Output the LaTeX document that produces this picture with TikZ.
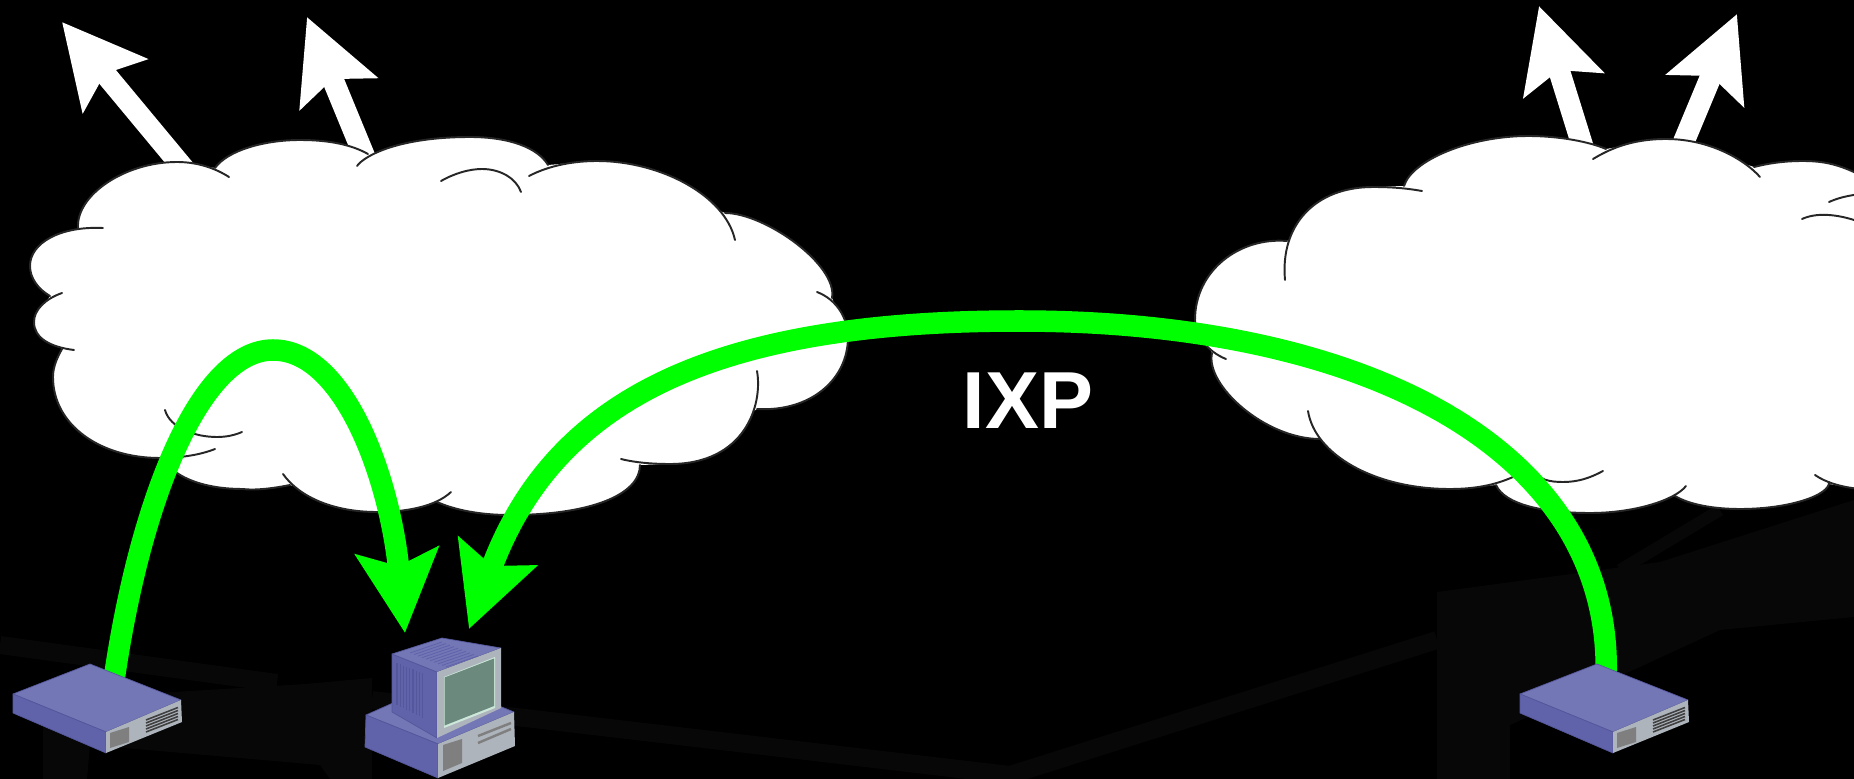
\documentclass[tikz,border=0pt]{standalone}
\usepackage{fontspec}
\setsansfont{Liberation Sans}
\usetikzlibrary{arrows.meta}

\definecolor{devtop}{HTML}{7477B6}
\definecolor{devside}{HTML}{6063A9}
\definecolor{devfront}{HTML}{ADB4BB}
\definecolor{devslot}{HTML}{7F7F7F}
\definecolor{devscreen}{HTML}{6B8A7D}
\definecolor{devglow}{HTML}{CDE8DA}
\definecolor{devvent}{HTML}{54579C}
\definecolor{faint}{HTML}{070707}
\definecolor{linkgreen}{HTML}{00FF00}

\tikzset{
  cloudline/.style={draw=black!85, line width=.55pt, line cap=round},
  uplink/.style={->, white, line width=.215cm},
  peering/.style={->, linkgreen, line width=.215cm},
  faintband/.style={draw=faint, line width=.18cm},
  edgeline/.style={draw=devvent, line width=.2pt, line join=round},
  switchbox/.pic={
    \filldraw[edgeline, fill=devtop] (90,664) -- (181,700) -- (106,732) -- (13,694) -- cycle;
    \filldraw[edgeline, fill=devside] (13,694) -- (106,732) -- (106,753) -- (13,713) -- cycle;
    \fill[devfront] (106,732) -- (181,700) -- (182,722) -- (106,753) -- cycle;
    \fill[devslot] (110,733) -- (129,727) -- (129,742) -- (110,748) -- cycle;
    \foreach \i in {0,1,2,3,4}
      \draw[black!75, line width=.45pt] (146,720+3*\i) -- (178,707.5+3*\i);
  },
  hostbox/.pic={
    % base
    \filldraw[edgeline, fill=devtop] (366,715) -- (438,744) -- (514,712) -- (440,682) -- cycle;
    \filldraw[edgeline, fill=devside] (366,715) -- (438,744) -- (438,778) -- (365,747) -- cycle;
    \fill[devfront] (438,744) -- (514,712) -- (515,746) -- (438,778) -- cycle;
    \fill[devslot] (443,745) -- (462,739) -- (462,763) -- (443,771) -- cycle;
    \draw[devslot, line width=.7pt] (478,736) -- (511,723) (478,743) -- (511,729);
    % monitor
    \filldraw[edgeline, fill=devside] (392,654) -- (437,672) -- (437,738) -- (392,712) -- cycle;
    \filldraw[edgeline, fill=devtop] (392,654) -- (442,638) -- (501,648) -- (437,672) -- cycle;
    \fill[devfront] (437,672) -- (501,648) -- (501,708) -- (437,738) -- cycle;
    \foreach \i in {0,...,8}
      \draw[devvent, line width=.3pt] (397+3.2*\i,663+1.25*\i) -- (397+3.2*\i,705+1.6*\i);
    \foreach \i in {0,...,9}
      \draw[devside, line width=.25pt] (410+4*\i,653+1.55*\i) -- (442+4*\i,642+1.55*\i);
    \fill[devglow] (444,677) -- (495,657) -- (495,708) -- (444,728) -- cycle;
    \fill[devscreen] (444.5,677.5) -- (494,658.5) -- (494,706) -- (444.5,725.5) -- cycle;
  },
}

\newcommand{\cloudwest}[1]{
  \path[#1] (78,228) .. controls (76,195) and (125,162) .. (177,162) .. controls (197,162) and (215,168) .. (229,177);
  \path[#1] (215,168) .. controls (228,150) and (265,140) .. (300,140) .. controls (330,140) and (352,145) .. (368,154);
  \path[#1] (357,166) .. controls (365,155) and (400,137) .. (470,137) .. controls (510,137) and (538,148) .. (548,165);
  \path[#1] (441,181) .. controls (455,173) and (470,169) .. (482,169) .. controls (500,169) and (516,178) .. (521,192);
  \path[#1] (529,176) .. controls (550,165) and (575,161) .. (597,161) .. controls (660,161) and (725,195) .. (735,240);
  \path[#1] (725,213) .. controls (765,213) and (838,265) .. (832,298);
  \path[#1] (817,292) .. controls (838,300) and (848,320) .. (848,337) .. controls (848,380) and (810,412) .. (757,409);
  \path[#1] (757,371) .. controls (763,405) and (745,464) .. (670,464) .. controls (655,464) and (637,463) .. (621,459);
  \path[#1] (640,465) .. controls (640,495) and (590,515) .. (510,515) .. controls (480,515) and (455,510) .. (437,502);
  \path[#1] (283,474) .. controls (300,498) and (335,512) .. (377,512) .. controls (405,512) and (435,507) .. (451,492);
  \path[#1] (290,485) .. controls (265,490) and (250,490) .. (243,489) .. controls (220,489) and (195,485) .. (177,473);
  \path[#1] (215,449) .. controls (200,455) and (180,458) .. (160,458) .. controls (100,458) and (53,425) .. (53,377) .. controls (53,367) and (57,358) .. (62,349);
  \path[#1] (74,350) .. controls (50,347) and (34,338) .. (34,322) .. controls (34,310) and (45,299) .. (62,293);
  \path[#1] (50,296) .. controls (38,289) and (30,278) .. (30,266) .. controls (30,243) and (60,226) .. (103,228);
  \path[#1] (165,410) .. controls (170,428) and (195,437) .. (217,437) .. controls (227,437) and (235,435) .. (242,432);
}
\newcommand{\cloudeast}[1]{
  \path[#1] (1285,280) .. controls (1280,225) and (1315,187) .. (1373,187) .. controls (1390,187) and (1405,188) .. (1422,191);
  \path[#1] (1404,186) .. controls (1412,160) and (1470,136) .. (1528,136) .. controls (1560,136) and (1590,142) .. (1606,149);
  \path[#1] (1593,159) .. controls (1608,150) and (1630,139) .. (1666,139) .. controls (1710,139) and (1745,160) .. (1760,177);
  \path[#1] (1754,167) .. controls (1770,163) and (1785,161) .. (1803,161) .. controls (1825,161) and (1840,165) .. (1860,175);
  \path[#1] (1829,202) .. controls (1838,198) and (1846,196) .. (1860,194);
  \path[#1] (1802,219) .. controls (1815,213) and (1835,213) .. (1860,222);
  \path[#1] (1287,241) .. controls (1240,237) and (1195,270) .. (1195,320) .. controls (1195,335) and (1208,352) .. (1226,359);
  \path[#1] (1212,353) .. controls (1205,385) and (1265,439) .. (1320,439);
  \path[#1] (1308,411) .. controls (1315,455) and (1375,489) .. (1450,489) .. controls (1475,489) and (1495,485) .. (1513,477);
  \path[#1] (1603,471) .. controls (1590,478) and (1578,482) .. (1563,482) .. controls (1550,482) and (1540,480) .. (1530,470);
  \path[#1] (1496,485) .. controls (1505,505) and (1545,513) .. (1590,513) .. controls (1635,513) and (1675,500) .. (1686,486);
  \path[#1] (1675,496) .. controls (1690,505) and (1715,509) .. (1740,509) .. controls (1790,509) and (1830,495) .. (1829,482);
  \path[#1] (1815,475) .. controls (1825,482) and (1840,487) .. (1860,489);
}

\begin{document}
\begin{tikzpicture}[x=.01cm, y=-.01cm, >={Stealth[length=.82cm, width=.82cm, inset=.15cm]}]
  \useasboundingbox[fill=black] (0,0) rectangle (1854,779);

  % faint map behind
  \fill[faint] (43,733) -- (43,700) -- (305,684) -- (372,678) -- (372,779) -- (330,779) -- (320,765) -- (90,745) -- (87,779) -- (43,779) -- cycle;
  \fill[faint] (1437,592) -- (1660,562) -- (1854,500) -- (1854,617) -- (1720,630) -- (1627,673) -- (1510,725) -- (1510,779) -- (1437,779) -- cycle;
  \draw[faintband] (0,645) -- (277,683);
  \draw[faintband] (372,700) -- (1010,775) -- (1437,640);
  \draw[faint, line width=.12cm] (1620,570) -- (1720,510);

  % links out of the clouds
  \coordinate (westAstart) at (185,170);
  \coordinate (westAtip) at (62,22);
  \coordinate (westBstart) at (370,170);
  \coordinate (westBtip) at (307,17);
  \coordinate (eastAstart) at (1590,170);
  \coordinate (eastAtip) at (1539,6);
  \coordinate (eastBstart) at (1672,170);
  \coordinate (eastBtip) at (1737,14);
  \draw[uplink] (westAstart) -- (westAtip);
  \draw[uplink] (westBstart) -- (westBtip);
  \draw[uplink] (eastAstart) -- (eastAtip);
  \draw[uplink] (eastBstart) -- (eastBtip);

  % first cloud
  \fill[white] (78,228) -- (177,162) -- (215,168) -- (300,140) -- (368,154) -- (470,137) -- (548,165) -- (597,161) -- (725,213) -- (796,243) -- (832,298) -- (848,337) -- (757,409) -- (670,464) -- (640,465) -- (510,515) -- (437,502) -- (377,512) -- (290,485) -- (243,489) -- (177,473) -- (160,458) -- (53,377) -- (62,349) -- (34,322) -- (50,296) -- (30,266) -- cycle;
  \cloudwest{fill=white}
  \cloudwest{cloudline}

  % second cloud
  \fill[white] (1195,320) -- (1287,241) -- (1373,187) -- (1404,186) -- (1528,136) -- (1606,149) -- (1666,139) -- (1754,167) -- (1803,161) -- (1860,175) -- (1860,489) -- (1829,484) -- (1740,509) -- (1675,496) -- (1590,513) -- (1496,485) -- (1450,489) -- (1320,439) -- (1250,405) -- (1212,353) -- cycle;
  \cloudeast{fill=white}
  \cloudeast{cloudline}

  \node[text=white, font=\sffamily\bfseries\fontsize{23}{23}\selectfont, inner sep=0pt] (ixp) at (1028,401) {IXP};

  % the two routes
  \coordinate (switchwest) at (114,680);
  \coordinate (apexwest) at (273,350);
  \coordinate (hosttipA) at (405,633);
  \coordinate (switcheast) at (1606,680);
  \coordinate (apexeast) at (1019,321);
  \coordinate (hosttipB) at (469,629);
  \draw[peering] (switchwest) .. controls (140,500) and (200,350) .. (apexwest)
     .. controls (345,350) and (390,480) .. (hosttipA);
  \draw[peering] (switcheast) .. controls (1615,455) and (1375,321) .. (apexeast)
     .. controls (720,321) and (555,395) .. (hosttipB);

  % devices
  \pic at (0,0) {switchbox};
  \pic at (1507,0) {switchbox};
  \pic at (0,0) {hostbox};
\end{tikzpicture}
\end{document}
